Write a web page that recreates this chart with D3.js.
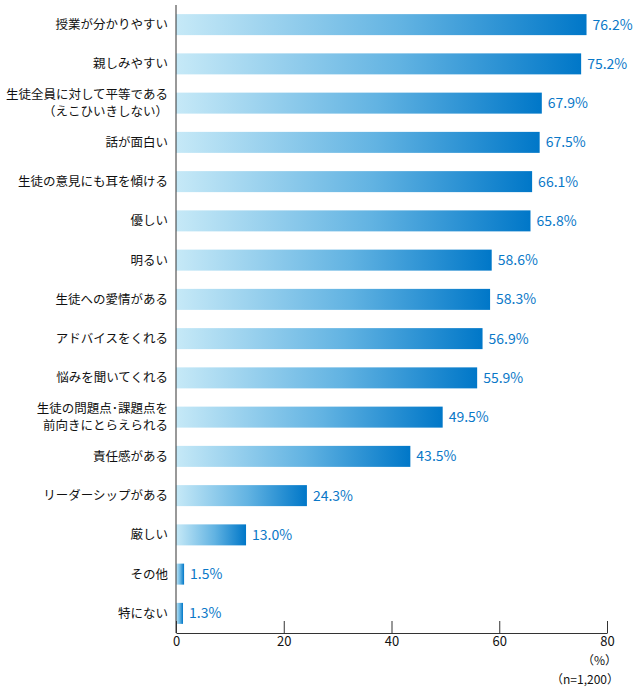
<!DOCTYPE html>
<html>
<head>
<meta charset="utf-8">
<script src="https://cdn.jsdelivr.net/npm/d3@7"></script>
<style>
	body{margin:0;background:#fff;}
	svg text{font-family:"Noto Sans CJK JP","Noto Sans",sans-serif;}
</style>
</head>
<body>
<div id="chart"></div>
<script>
// Items, each label split into its lines.
const labels = [
	["授業が分かりやすい"],
	["親しみやすい"],
	["生徒全員に対して平等である", "（えこひいきしない）"],
	["話が面白い"],
	["生徒の意見にも耳を傾ける"],
	["優しい"],
	["明るい"],
	["生徒への愛情がある"],
	["アドバイスをくれる"],
	["悩みを聞いてくれる"],
	["生徒の問題点･課題点を", "前向きにとらえられる"],
	["責任感がある"],
	["リーダーシップがある"],
	["厳しい"],
	["その他"],
	["特にない"]
];

const values = [76.2, 75.2, 67.9, 67.5, 66.1, 65.8, 58.6, 58.3, 56.9, 55.9, 49.5, 43.5, 24.3, 13.0, 1.5, 1.3];

const xticks = [0, 20, 40, 60, 80];

const width = 638, height = 690;

let svg = d3.select("#chart").append("svg")
	.attr("width", width)
	.attr("height", height);

// Each bar has its own light-to-dark gradient.
let defs = svg.append("defs");
let grad = defs.append("linearGradient")
	.attr("id", "bargrad")
	.attr("x1", "0").attr("x2", "1").attr("y1", "0").attr("y2", "0");
grad.append("stop").attr("offset", "0%").attr("stop-color", "#c6e9f7");
grad.append("stop").attr("offset", "55%").attr("stop-color", "#62b3e2");
grad.append("stop").attr("offset", "100%").attr("stop-color", "#0077c8");

let x = d3.scaleLinear().domain([0, 80]).range([176, 607]);

let y = d3.scaleBand()
	.domain(d3.range(values.length))
	.range([5, 633])
	.paddingInner(0.465)
	.paddingOuter(0.2325);

// bars
svg.append("g")
	.selectAll("rect")
	.data(values)
	.join("rect")
	.attr("x", x(0))
	.attr("y", (d, i) => y(i))
	.attr("width", d => x(d) - x(0))
	.attr("height", y.bandwidth())
	.attr("fill", "url(#bargrad)");

// value labels
svg.append("g")
	.selectAll("text")
	.data(values)
	.join("text")
	.attr("x", d => x(d) + 6)
	.attr("y", (d, i) => y(i) + y.bandwidth() / 2)
	.attr("dy", "0.35em")
	.attr("font-size", 14)
	.attr("fill", "#0a78c8")
	.text(d => d.toFixed(1) + "%");

// category labels
let lab = svg.append("g")
	.selectAll("text")
	.data(labels)
	.join("text")
	.attr("text-anchor", "end")
	.attr("font-size", 12.5)
	.attr("fill", "#111");

lab.each(function(lines, i){
	let cy = y(i) + y.bandwidth() / 2;
	let start = cy - (lines.length - 1) * 17.5 / 2;
	d3.select(this).selectAll("tspan")
		.data(lines)
		.join("tspan")
		.attr("x", 168)
		.attr("y", (l, j) => start + j * 17.5)
		.attr("dy", "0.35em")
		.text(l => l);
});

// x axis with inward ticks
let xaxis = svg.append("g")
	.attr("transform", "translate(0,633)")
	.call(d3.axisBottom(x).tickValues(xticks).tickSize(-12).tickSizeOuter(0).tickPadding(4));
xaxis.select(".domain").attr("stroke", "#333");
xaxis.selectAll(".tick line").attr("stroke", "#333");
xaxis.selectAll(".tick text")
	.attr("font-size", 13)
	.attr("fill", "#111")
	.attr("font-family", "\"Noto Sans CJK JP\",\"Noto Sans\",sans-serif");

// y axis line
svg.append("line")
	.attr("x1", x(0)).attr("x2", x(0))
	.attr("y1", 5).attr("y2", 633)
	.attr("stroke", "#333");

// unit notes
svg.append("text")
	.attr("x", 617).attr("y", 665)
	.attr("text-anchor", "end")
	.attr("font-size", 12)
	.attr("fill", "#111")
	.text("（%）");

svg.append("text")
	.attr("x", 619).attr("y", 684)
	.attr("text-anchor", "end")
	.attr("font-size", 12)
	.attr("fill", "#111")
	.text("（n=1,200）");
</script>
</body>
</html>
